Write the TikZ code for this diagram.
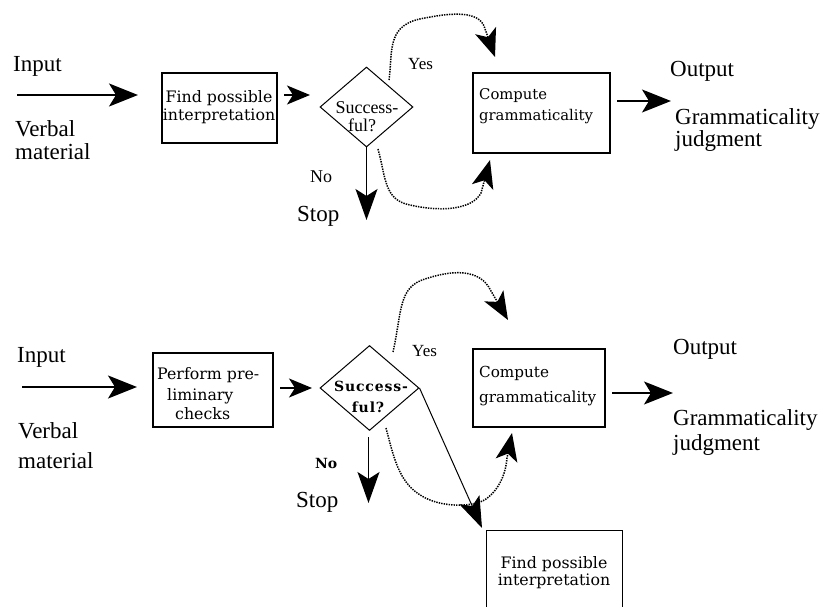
\documentclass[tikz,border=0pt]{standalone}
\usepackage{fontspec}
\setmainfont{Liberation Serif}
\newfontfamily\schfont{DejaVu Serif}
\usetikzlibrary{arrows.meta,shapes.geometric}
\begin{document}
\begin{tikzpicture}[x=1pt,y=-1pt,
  bigtxt/.style={font=\fontsize{23}{23}\selectfont, inner sep=0pt},
  midtxt/.style={font=\fontsize{17}{17}\selectfont, inner sep=0pt},
  dectxt/.style={font=\fontsize{18}{18}\selectfont, inner sep=0pt},
  bdectxt/.style={font=\schfont\bfseries\fontsize{14}{14}\selectfont\addfontfeature{LetterSpace=6}, inner sep=0pt},
  boxtxt/.style={font=\schfont\fontsize{14.8}{15}\selectfont, inner sep=0pt},
  findtxt/.style={font=\schfont\fontsize{15.8}{16}\selectfont, inner sep=0pt},
  procbox/.style={draw, line width=1.1pt, inner sep=0pt},
  dec/.style={draw, diamond, line width=1pt, inner sep=0pt},
  flow/.style={line width=1.6pt, -{Stealth[length=29pt,width=23pt,inset=7pt]}},
  flowsmall/.style={line width=1.6pt, -{Stealth[length=23pt,width=19pt,inset=6pt]}},
  flowdown/.style={line width=1.3pt, -{Stealth[length=31pt,width=22pt,inset=7pt]}},
  thinflow/.style={line width=1pt, -{Stealth[length=31pt,width=22pt,inset=7pt]}},
  dotflow/.style={line width=1.5pt, dash pattern=on 1.4pt off 1.1pt, -{Stealth[length=28pt,width=22pt,inset=7pt]}},
]
\useasboundingbox (0,0) rectangle (823,607);

% ================= TOP DIAGRAM =================
\node[bigtxt, anchor=base west] (in1) at (13,72) {Input};
\node[bigtxt, anchor=base west] (vb1) at (15,137) {Verbal};
\node[bigtxt, anchor=base west] (vm1) at (15,160) {material};
\coordinate (in1s) at (17,95);
\coordinate (in1e) at (138,95);
\draw[flow] (in1s) -- (in1e);

\node[procbox, minimum width=115pt, minimum height=70pt] (b1) at (219.5,108) {};
\node[findtxt, anchor=base] (b1a) at (219,103) {Find possible};
\node[findtxt, anchor=base] (b1b) at (219,121) {interpretation};

\coordinate (a1s) at (284,95);
\coordinate (a1e) at (310,95);
\draw[flowsmall] (a1s) -- (a1e);

\node[dec, minimum width=93pt, minimum height=80pt] (d1) at (366.5,107) {};
\node[dectxt, anchor=base] (d1a) at (367,114) {Success-};
\node[dectxt, anchor=base] (d1b) at (362,132) {ful?};

\node[midtxt, anchor=base west] (yes1) at (408,70) {Yes};
\node[midtxt, anchor=base west, font=\fontsize{18}{18}\selectfont] (no1) at (310,183) {No};
\node[bigtxt, anchor=base west] (stop1) at (297,222) {Stop};
\coordinate (dn1e) at (366.5,220);
\draw[flowdown] (d1.south) -- (dn1e);

\node[procbox, minimum width=137pt, minimum height=80pt] (b2) at (541.5,113) {};
\node[boxtxt, anchor=base west] (b2a) at (479,100) {Compute};
\node[boxtxt, anchor=base west] (b2b) at (479,121) {grammaticality};

\coordinate (y1s) at (389,80);
\coordinate (y1e) at (495,57);
\draw[dotflow] (y1s) .. controls (393,50) and (386,24) .. (425,18)
  .. controls (455,12) and (478,12) .. (484,26) -- (y1e);

\coordinate (n1s) at (378,149);
\coordinate (n1e) at (490,160);
\draw[dotflow] (n1s) .. controls (386,178) and (384,200) .. (410,205)
  .. controls (440,212) and (472,210) .. (481,193) -- (n1e);

\coordinate (o1s) at (617,101);
\coordinate (o1e) at (671,101);
\draw[flow, line width=1.3pt] (o1s) -- (o1e);
\node[bigtxt, anchor=base west] (out1) at (670,77) {Output};
\node[bigtxt, anchor=base west] (gj1a) at (675,125) {Grammaticality};
\node[bigtxt, anchor=base west] (gj1b) at (675,147) {judgment};

% ================= BOTTOM DIAGRAM =================
\node[bigtxt, anchor=base west] (in2) at (17,362) {Input};
\node[bigtxt, anchor=base west] (vb2) at (18,438) {Verbal};
\node[bigtxt, anchor=base west] (vm2) at (18,468) {material};
\coordinate (in2s) at (22,387);
\coordinate (in2e) at (137,387);
\draw[flow] (in2s) -- (in2e);

\node[procbox, minimum width=120pt, minimum height=74pt] (b3) at (213,390) {};
\node[findtxt, anchor=base west] (b3a) at (157,379) {Perform pre-};
\node[findtxt, anchor=base west] (b3b) at (167,400) {liminary};
\node[findtxt, anchor=base west] (b3c) at (175,419) {checks};

\coordinate (a2s) at (280,388);
\coordinate (a2e) at (312,388);
\draw[flowsmall] (a2s) -- (a2e);

\node[dec, minimum width=99pt, minimum height=85pt] (d2) at (369.5,388) {};
\node[bdectxt, anchor=base] (d2a) at (371,391) {Success-};
\node[bdectxt, anchor=base] (d2b) at (368,412) {ful?};

\node[midtxt, anchor=base west] (yes2) at (412,356) {Yes};
\node[anchor=base west, inner sep=0pt, font=\schfont\bfseries\fontsize{14}{14}\selectfont] (no2) at (315,468) {No};
\node[bigtxt, anchor=base west] (stop2) at (296,507) {Stop};
\coordinate (dn2s) at (368.5,437);
\coordinate (dn2e) at (368.5,503);
\draw[flowdown] (dn2s) -- (dn2e);

\node[procbox, minimum width=132pt, minimum height=78pt] (b4) at (539,388) {};
\node[boxtxt, anchor=base west, font=\schfont\fontsize{15.2}{15}\selectfont] (b4a) at (479,377) {Compute};
\node[boxtxt, anchor=base west, font=\schfont\fontsize{15.2}{15}\selectfont] (b4b) at (479,402) {grammaticality};

\coordinate (y2s) at (393,352);
\coordinate (y2e) at (508,320);
\draw[dotflow] (y2s) .. controls (402,312) and (398,287) .. (425,279)
  .. controls (452,270) and (480,268) .. (491,291) -- (y2e);

\coordinate (n2s) at (386,428);
\coordinate (n2e) at (512,433);
\draw[dotflow] (n2s) .. controls (395,462) and (400,488) .. (430,500)
  .. controls (447,507) and (474,507) .. (486,499)
  .. controls (500,489) and (506,472) .. (507,458) -- (n2e);

\node[inner sep=0pt, minimum width=135pt, minimum height=76pt] (b5) at (554.5,569) {};
\draw[line width=1.1pt] (b5.south west) -- (b5.north west) -- (b5.north east) -- (b5.south east);
\node[findtxt, anchor=base] (b5a) at (554,568) {Find possible};
\node[findtxt, anchor=base] (b5b) at (554,585) {interpretation};

\coordinate (s2e) at (482,528);
\draw[thinflow] (d2.east) -- (s2e);

\coordinate (o2s) at (612,393);
\coordinate (o2e) at (673,393);
\draw[flow, line width=1.3pt] (o2s) -- (o2e);
\node[bigtxt, anchor=base west] (out2) at (673,354) {Output};
\node[bigtxt, anchor=base west] (gj2a) at (673,425) {Grammaticality};
\node[bigtxt, anchor=base west] (gj2b) at (673,450) {judgment};
\end{tikzpicture}
\end{document}
